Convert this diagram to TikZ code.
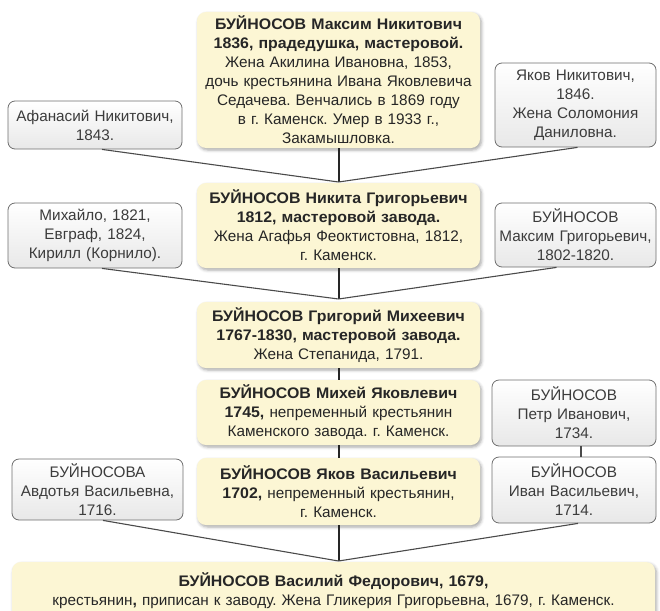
\documentclass[tikz,border=0pt]{standalone}
\usepackage{fontspec}
\setmainfont{Liberation Sans}[BoldFeatures={FakeStretch=1.04}]
\usetikzlibrary{shadows.blur,calc}
\definecolor{cream}{HTML}{FCF6D4}
\definecolor{txt}{HTML}{262626}
\definecolor{wbord}{HTML}{6E6E6E}
\definecolor{lnk}{HTML}{4A4A4A}
\tikzset{
 yel/.style={rectangle, rounded corners=9pt, fill=cream, inner sep=0pt, align=center, text=txt,
   font=\fontsize{15.3}{19}\selectfont,
   blur shadow={shadow xshift=1.5pt, shadow yshift=-2pt, shadow blur radius=3pt, shadow opacity=35}},
 wht/.style={rectangle, rounded corners=7pt, draw=wbord, line width=0.8pt, top color=white, bottom color=black!9,
   inner sep=0pt, align=center, text=txt!90, font=\fontsize{15.3}{19}\selectfont},
 link/.style={draw=lnk, line width=1.1pt},
 trunk/.style={draw=black!85, line width=2pt},
}
\frenchspacing
\begin{document}
\begin{tikzpicture}[x=1pt,y=-1pt]
\useasboundingbox (0,0) rectangle (660,610);
% main line
\node[yel, minimum width=283pt, text width=283pt, minimum height=136pt] (mn) at (338.5,80)
 {\textbf{БУЙНОСОВ Максим Никитович}\\\textbf{1836, прадедушка, мастеровой.}\\Жена Акилина Ивановна, 1853,\\дочь крестьянина Ивана Яковлевича\\Седачева. Венчались в 1869 году\\в г. Каменск. Умер в 1933 г.,\\Закамышловка.};
\node[yel, minimum width=283pt, text width=283pt, minimum height=85pt] (ng) at (338.5,225.5)
 {\textbf{БУЙНОСОВ Никита Григорьевич}\\\textbf{1812, мастеровой завода.}\\Жена Агафья Феоктистовна, 1812,\\г. Каменск.};
\node[yel, minimum width=283pt, text width=283pt, minimum height=66pt] (gm) at (338.5,335)
 {\textbf{БУЙНОСОВ Григорий Михеевич}\\\textbf{1767-1830, мастеровой завода.}\\Жена Степанида, 1791.};
\node[yel, minimum width=283pt, text width=283pt, minimum height=65pt] (mj) at (338.5,412.5)
 {\textbf{БУЙНОСОВ Михей Яковлевич}\\\textbf{1745,} непременный крестьянин\\Каменского завода. г. Каменск.};
\node[yel, minimum width=283pt, text width=283pt, minimum height=67pt] (yv) at (338.5,491.5)
 {\textbf{БУЙНОСОВ Яков Васильевич}\\\textbf{1702,} непременный крестьянин,\\г. Каменск.};
\node[yel, minimum width=643pt, text width=643pt, minimum height=58pt] (vf) at (333.5,591)
 {\textbf{БУЙНОСОВ Василий Федорович, 1679,}\\крестьянин\textbf{,} приписан к заводу. Жена Гликерия Григорьевна, 1679, г. Каменск.\\[6pt]};
% side boxes
\node[wht, minimum width=174pt, text width=174pt, minimum height=48pt] (afan) at (95,125)
 {Афанасий Никитович,\\1843.};
\node[wht, minimum width=161pt, text width=161pt, minimum height=84pt] (yakn) at (575.5,105)
 {Яков Никитович,\\1846.\\Жена Соломония\\Даниловна.};
\node[wht, minimum width=174pt, text width=174pt, minimum height=65pt] (mikh) at (95,235.5)
 {Михайло, 1821,\\Евграф, 1824,\\Кирилл (Корнило).};
\node[wht, minimum width=161pt, text width=161pt, minimum height=64pt] (mg) at (575.5,235)
 {БУЙНОСОВ\\Максим Григорьевич,\\1802-1820.};
\node[wht, minimum width=164pt, text width=164pt, minimum height=66pt] (pi) at (574,413)
 {БУЙНОСОВ\\Петр Иванович,\\1734.};
\node[wht, minimum width=171pt, text width=171pt, minimum height=61pt] (av) at (97.5,489.5)
 {БУЙНОСОВА\\Авдотья Васильевна,\\1716.};
\node[wht, minimum width=164pt, text width=164pt, minimum height=66pt] (iv) at (574,490)
 {БУЙНОСОВ\\Иван Васильевич,\\1714.};
% junctions
\coordinate (j1) at (338.5,182);
\coordinate (j2) at (338.5,299);
\coordinate (j3) at (338.5,561);
% connectors
\draw[trunk] (mn.south) -- (j1);
\draw[link] ([xshift=7pt]afan.south) -- (j1);
\draw[link] ([xshift=2pt]yakn.south) -- (j1);
\draw[trunk] (ng.south) -- (j2);
\draw[link] ([xshift=7pt]mikh.south) -- (j2);
\draw[link] ([xshift=-19pt]mg.south) -- (j2);
\draw[trunk] (gm.south) -- (mj.north);
\draw[trunk] (mj.south) -- (yv.north);
\draw[link] ([xshift=7pt]pi.south) -- ([xshift=7pt]iv.north);
\draw[trunk] (yv.south) -- (j3);
\draw[link] ([xshift=5.5pt]av.south) -- (j3);
\draw[link] ([xshift=4pt]iv.south) -- (j3);
\end{tikzpicture}
\end{document}
